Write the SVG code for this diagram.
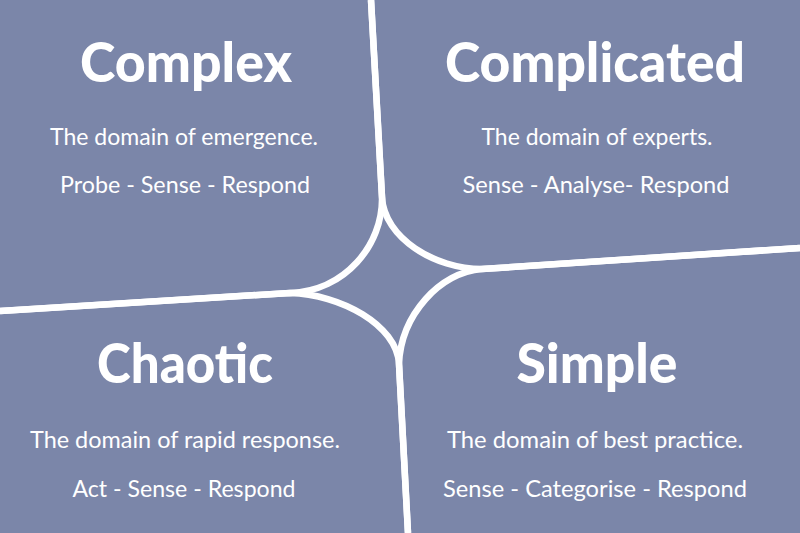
<svg xmlns="http://www.w3.org/2000/svg" width="800" height="533" viewBox="0 0 800 533">
<style>
.bg{fill:#7b86a9}
.sep{fill:none;stroke:#fff;stroke-width:6.5;stroke-linejoin:round}
.t{font-family:"Lato","Open Sans",sans-serif;font-weight:900;font-size:56px;fill:#fff;text-anchor:middle}
.s{font-family:"Lato","Open Sans",sans-serif;font-weight:400;font-size:24px;fill:#fff;text-anchor:middle}
</style>
<rect class="bg" x="0" y="0" width="800" height="533"/>
<g id="connectors">
<path class="sep" d="M371,0 L382,197 C383,245 345,291 290,293 L0,311"/>
<path class="sep" d="M371,0 L382,197 C384,238 435,269 482,269 L800,248"/>
<path class="sep" d="M0,311 L290,293 C340,294 397,325 399,364 L408,533"/>
<path class="sep" d="M800,248 L482,269 C440,272 401,315 399,364 L408,533"/>
</g>
<g id="complex">
<text class="t" x="186" y="82" textLength="212" lengthAdjust="spacingAndGlyphs">Complex</text>
<text class="s" x="184" y="145" textLength="268" lengthAdjust="spacingAndGlyphs">The domain of emergence.</text>
<text class="s" x="185" y="193" textLength="250" lengthAdjust="spacingAndGlyphs">Probe - Sense - Respond</text>
</g>
<g id="complicated">
<text class="t" x="595" y="82" textLength="300" lengthAdjust="spacingAndGlyphs">Complicated</text>
<text class="s" x="597" y="145" textLength="231" lengthAdjust="spacingAndGlyphs">The domain of experts.</text>
<text class="s" x="596" y="193" textLength="267" lengthAdjust="spacingAndGlyphs">Sense - Analyse- Respond</text>
</g>
<g id="chaotic">
<text class="t" x="185" y="383" textLength="176" lengthAdjust="spacingAndGlyphs">Chaotic</text>
<text class="s" x="185" y="448" textLength="310" lengthAdjust="spacingAndGlyphs">The domain of rapid response.</text>
<text class="s" x="184" y="497" textLength="223" lengthAdjust="spacingAndGlyphs">Act - Sense - Respond</text>
</g>
<g id="simple">
<text class="t" x="597" y="383" textLength="161" lengthAdjust="spacingAndGlyphs">Simple</text>
<text class="s" x="595" y="448" textLength="296" lengthAdjust="spacingAndGlyphs">The domain of best practice.</text>
<text class="s" x="595" y="497" textLength="304" lengthAdjust="spacingAndGlyphs">Sense - Categorise - Respond</text>
</g>
</svg>
